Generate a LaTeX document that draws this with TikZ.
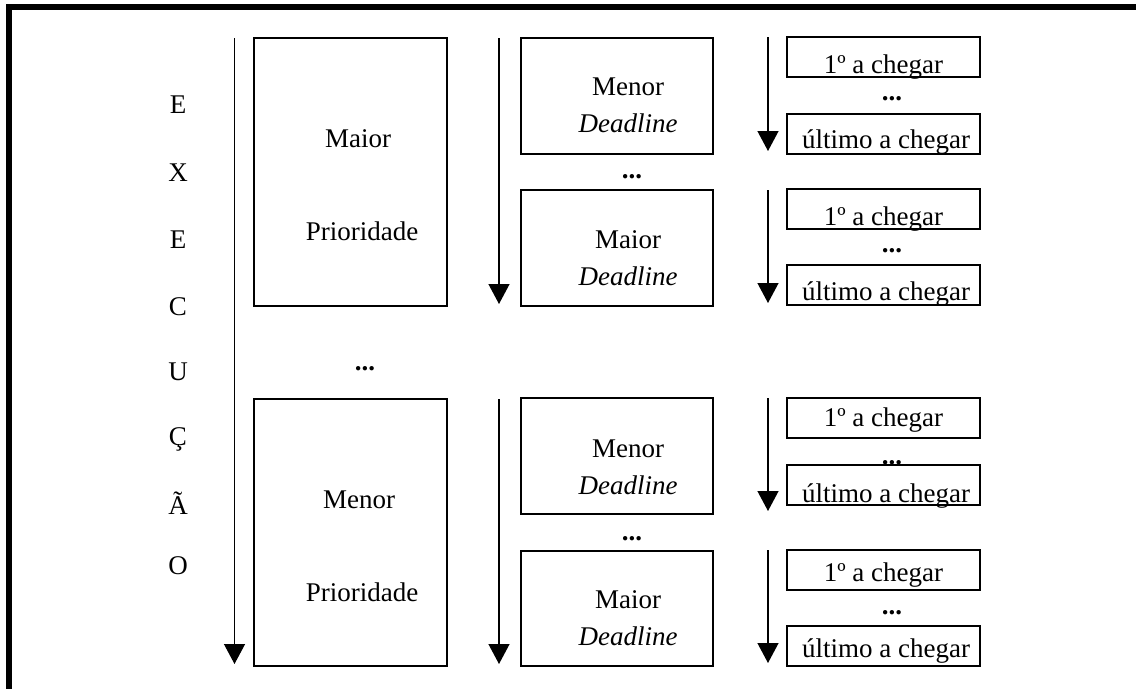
\documentclass[tikz,border=0pt]{standalone}
\usepackage{fontspec}
\setmainfont{Liberation Serif}
\usetikzlibrary{arrows.meta}
\begin{document}
\begin{tikzpicture}[x=1pt,y=-1pt,
  box/.style={draw,line width=1.3pt,inner sep=0pt},
  bigbox/.style={box,minimum width=193pt,minimum height=268pt},
  midbox/.style={box,minimum width=192pt,minimum height=116pt},
  smallbox/.style={box,minimum width=193pt,minimum height=40pt},
  txt/.style={anchor=base,inner sep=0pt,font=\fontsize{27}{32}\selectfont},
  dots/.style={txt,font=\fontsize{27}{32}\selectfont\bfseries},
  flow/.style={line width=1.3pt,-{Triangle[width=21pt,length=20pt]}}]
\useasboundingbox (0,0) rectangle (1136,689);
% frame
\fill (6,4) rectangle (1136,10);
\fill (6,4) rectangle (12,689);
% vertical word
\foreach \l/\y [count=\i] in {E/113,X/181,E/248,C/315,U/380,Ç/445,Ã/514,O/574}
  \node[txt] (w\i) at (178,\y) {\l};
% arrows
\coordinate (aLs) at (234.5,38);  \coordinate (aLe) at (234.5,664);
\coordinate (aM1s) at (499,38);   \coordinate (aM1e) at (499,304);
\coordinate (aM2s) at (499,399);  \coordinate (aM2e) at (499,664);
\coordinate (aR1s) at (768,37);   \coordinate (aR1e) at (768,151);
\coordinate (aR2s) at (768,190);  \coordinate (aR2e) at (768,303);
\coordinate (aR3s) at (768,398);  \coordinate (aR3e) at (768,511);
\coordinate (aR4s) at (768,550);  \coordinate (aR4e) at (768,663);
\foreach \a in {L,M1,M2,R1,R2,R3,R4}
  \draw[flow] (a\a s) -- (a\a e);
% big boxes
\node[bigbox] (B1) at (350.5,172) {};
\node[bigbox,minimum height=267pt] (B2) at (350.5,532.5) {};
\node[txt] (B1t1) at (358,147) {Maior};
\node[txt] (B1t2) at (362,240) {Prioridade};
\node[dots] (Bdots) at (365,370) {...};
\node[txt] (B2t1) at (359,508) {Menor};
\node[txt] (B2t2) at (362,601) {Prioridade};
% middle boxes
\node[midbox] (M1) at (617,96) {};
\node[midbox] (M2) at (617,248) {};
\node[midbox] (M3) at (617,456) {};
\node[midbox,minimum height=115pt] (M4) at (617,608.5) {};
\node[txt] (M1t1) at (628,95) {Menor};
\node[txt] (M1t2) at (628,132) {\itshape Deadline};
\node[dots] (Mdots1) at (632,178) {...};
\node[txt] (M2t1) at (628,248) {Maior};
\node[txt] (M2t2) at (628,285) {\itshape Deadline};
\node[txt] (M3t1) at (628,457) {Menor};
\node[txt] (M3t2) at (628,494) {\itshape Deadline};
\node[dots] (Mdots2) at (632,540) {...};
\node[txt] (M4t1) at (628,608) {Maior};
\node[txt] (M4t2) at (628,645) {\itshape Deadline};
% right boxes
\foreach \n/\c in {R1a/57,R1b/134,R2a/209,R2b/285,R3a/418,R3b/485,R4a/570,R4b/646}
  \node[smallbox] (\n) at (883.5,\c) {};
\foreach \n/\y in {R1a/73,R2a/225,R3a/426,R4a/581}
  \node[txt] (\n t) at (883.5,\y) {1º a chegar};
\foreach \n/\y in {R1b/148,R2b/300,R3b/502,R4b/657}
  \node[txt] (\n t) at (886,\y) {último a chegar};
\foreach \y [count=\i] in {100,252,464,614}
  \node[dots] (Rdots\i) at (892,\y) {...};
\end{tikzpicture}
\end{document}
